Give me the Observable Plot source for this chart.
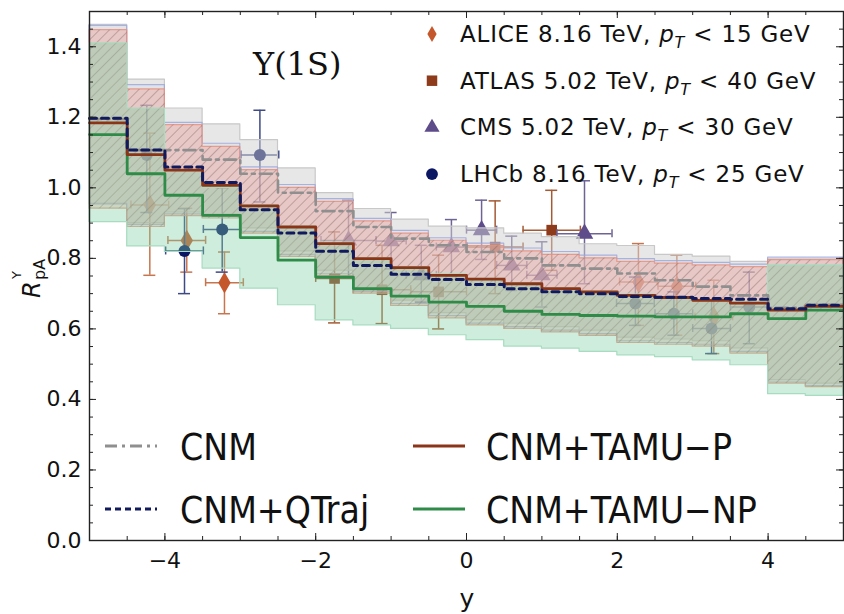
<!DOCTYPE html>
<html><head><meta charset="utf-8">
<script src="https://cdn.jsdelivr.net/npm/d3@7"></script>
<script src="https://cdn.jsdelivr.net/npm/@observablehq/plot@0.6"></script>
<style>html,body{margin:0;padding:0;background:#fff} svg{display:block}</style>
</head><body><div id="chart"></div>
<script>
// ---------- bins (rapidity) ----------
const binEdges = [-5,-4.5,-4,-3.5,-3,-2.5,-2,-1.5,-1,-0.5,0,0.5,1,1.5,2,2.5,3,3.5,4,4.5,5];

// ---------- theory curves: one value per bin ----------
const cnmCentral   = [1.195,1.107,1.107,1.080,1.040,0.986,0.934,0.889,0.856,0.837,0.818,0.800,0.780,0.771,0.757,0.738,0.720,0.695,0.660,0.668];
const cnmUpper     = [1.462,1.307,1.225,1.180,1.135,1.055,0.985,0.940,0.910,0.890,0.885,0.870,0.860,0.840,0.835,0.810,0.805,0.790,0.797,0.797];
const cnmLower     = [0.955,0.900,0.930,0.925,0.885,0.820,0.765,0.715,0.680,0.645,0.625,0.615,0.605,0.595,0.575,0.570,0.565,0.545,0.455,0.445];

const qtrajCentral = [1.197,1.107,1.059,1.015,0.938,0.872,0.820,0.780,0.755,0.740,0.726,0.714,0.705,0.700,0.692,0.690,0.686,0.684,0.657,0.667];
const qtrajUpper   = [1.459,1.291,1.184,1.125,1.058,1.008,0.968,0.912,0.878,0.857,0.842,0.828,0.818,0.808,0.798,0.792,0.787,0.782,0.802,0.802];
const qtrajLower   = [0.953,0.895,0.925,0.918,0.875,0.810,0.755,0.705,0.670,0.636,0.615,0.605,0.595,0.585,0.565,0.560,0.555,0.535,0.448,0.438];

const tamuPCentral = [1.184,1.094,1.050,1.007,0.949,0.889,0.842,0.799,0.774,0.752,0.741,0.728,0.714,0.705,0.695,0.689,0.681,0.673,0.653,0.664];
const tamuPUpper   = [1.447,1.279,1.178,1.116,1.050,1.000,0.960,0.905,0.870,0.850,0.835,0.820,0.810,0.800,0.790,0.785,0.780,0.775,0.795,0.795];
const tamuPLower   = [0.941,0.889,0.920,0.913,0.870,0.804,0.750,0.700,0.665,0.630,0.610,0.600,0.590,0.580,0.560,0.555,0.550,0.530,0.445,0.435];

const tamuNPCentral= [1.151,1.040,0.979,0.922,0.859,0.795,0.747,0.714,0.693,0.676,0.664,0.650,0.641,0.638,0.636,0.634,0.634,0.643,0.629,0.653];
const tamuNPUpper  = [1.410,1.225,1.050,1.000,0.950,0.890,0.845,0.800,0.775,0.755,0.742,0.730,0.715,0.706,0.697,0.690,0.682,0.675,0.780,0.780];
const tamuNPLower  = [0.903,0.834,0.818,0.771,0.714,0.667,0.624,0.610,0.600,0.582,0.568,0.550,0.544,0.535,0.525,0.520,0.511,0.497,0.415,0.410];

// ---------- data points ----------
const aliceY    = [-4.20,-3.71,-3.21, 2.28, 2.79, 3.28];
const aliceR    = [0.951,0.851,0.731,0.733,0.721,0.634];
const aliceLo   = [0.752,0.761,0.643,0.610,0.582,0.530];
const aliceHi   = [1.155,0.942,0.818,0.842,0.809,0.738];
const aliceXerr = [0.25,0.25,0.25,0.25,0.25,0.25];

const atlasY    = [-1.75,-1.12,-0.37, 0.38, 1.13];
const atlasR    = [0.743,0.711,0.705,0.832,0.880];
const atlasLo   = [0.617,0.615,0.600,0.700,0.766];
const atlasHi   = [0.875,0.837,0.809,0.963,0.993];
const atlasXerr = [0.25,0.38,0.37,0.37,0.38];

const cmsY      = [-1.565,-1.0,-0.6,-0.2, 0.2, 0.6, 1.0, 1.565];
const cmsR      = [0.851,0.849,0.752,0.832,0.880,0.780,0.752,0.870];
const cmsLo     = [0.747,0.770,0.676,0.750,0.797,0.709,0.662,0.728];
const cmsHi     = [0.965,0.930,0.837,0.910,0.965,0.863,0.847,1.020];
const cmsXerr   = [0.365,0.2,0.2,0.2,0.2,0.2,0.2,0.365];

const lhcbY     = [-4.24,-3.74,-3.24,-2.74, 2.24, 2.75, 3.25, 3.75];
const lhcbR     = [1.093,0.821,0.882,1.093,0.672,0.643,0.601,0.662];
const lhcbLo    = [0.930,0.700,0.761,0.960,0.610,0.582,0.530,0.558];
const lhcbHi    = [1.234,0.941,1.000,1.220,0.747,0.705,0.681,0.761];
const lhcbXerr  = [0.25,0.25,0.25,0.25,0.25,0.25,0.25,0.25];

// ---------- ticks & labels ----------
const xMajorTicks = [-4,-2,0,2,4];
const yMajorTicks = [0,0.2,0.4,0.6,0.8,1.0,1.2,1.4];
const xMinorTicks = d3.range(-5, 5.001, 0.5);
const yMinorTicks = d3.range(0, 1.501, 0.05);

const expLegend = [
  {name:"ALICE 8.16 TeV, ", cut:" < 15 GeV", symbol:"diamond"},
  {name:"ATLAS 5.02 TeV, ", cut:" < 40 GeV", symbol:"square"},
  {name:"CMS 5.02 TeV, ",   cut:" < 30 GeV", symbol:"triangle"},
  {name:"LHCb 8.16 TeV, ",  cut:" < 25 GeV", symbol:"circle"}
];
const modelLegend = ["CNM","CNM+QTraj","CNM+TAMU\u2212P","CNM+TAMU\u2212NP"];

// ---------- styling ----------
const C = {
  alice:"#c4582c", aliceErr:"#c8754f",
  atlas:"#8e3b1c", atlasErr:"#a35a35",
  cms:"#5d4b8a",  cmsErr:"#6e6394",
  lhcb:"#0b1763", lhcbErr:"#3e4a85",
  cnm:"#8f8f8f", qtraj:"#101a5c", tamuP:"#8a3418", tamuNP:"#2f8c48"
};

// ---------- derived tables ----------
const stepRows = (c, lo, hi) => binEdges.map((e, i) => {
  const k = Math.min(i, c.length - 1);
  return {x: e, c: c[k], lo: lo[k], hi: hi[k]};
});
const cnmRows = stepRows(cnmCentral, cnmLower, cnmUpper);
const qtrajRows = stepRows(qtrajCentral, qtrajLower, qtrajUpper);
const tamuPRows = stepRows(tamuPCentral, tamuPLower, tamuPUpper);
const tamuNPRows = stepRows(tamuNPCentral, tamuNPLower, tamuNPUpper);

const pts = (Y, R, Lo, Hi, Xe) => Y.map((y, i) => ({y, r: R[i], lo: Lo[i], hi: Hi[i], xe: Xe[i]}));
const alice = pts(aliceY, aliceR, aliceLo, aliceHi, aliceXerr);
const atlas = pts(atlasY, atlasR, atlasLo, atlasHi, atlasXerr);
const cms = pts(cmsY, cmsR, cmsLo, cmsHi, cmsXerr);
const lhcb = pts(lhcbY, lhcbR, lhcbLo, lhcbHi, lhcbXerr);

function errorMarks(data, color, errColor, symbol, r) {
  return [
    Plot.ruleX(data, {x:"y", y1:"lo", y2:"hi", stroke:errColor, strokeWidth:1.5}),
    Plot.ruleY(data, {y:"lo", x1:"y", x2:"y", insetLeft:-6, insetRight:-6, stroke:errColor, strokeWidth:1.5}),
    Plot.ruleY(data, {y:"hi", x1:"y", x2:"y", insetLeft:-6, insetRight:-6, stroke:errColor, strokeWidth:1.5}),
    Plot.ruleY(data, {y:"r", x1:d => d.y - d.xe, x2:d => d.y + d.xe, stroke:errColor, strokeWidth:1.5}),
    Plot.ruleX(data, {x:d => d.y - d.xe, y1:"r", y2:"r", insetTop:-4, insetBottom:-4, stroke:errColor, strokeWidth:1.5}),
    Plot.ruleX(data, {x:d => d.y + d.xe, y1:"r", y2:"r", insetTop:-4, insetBottom:-4, stroke:errColor, strokeWidth:1.5}),
    Plot.dot(data, {x:"y", y:"r", symbol, r, fill:color, stroke:"none"})
  ];
}

const W = 844, H = 614;
const M = {top:11, right:1, bottom:74, left:89};
const plotH = H - M.top - M.bottom, plotW = W - M.left - M.right;

const defsMark = () => {
  const defs = document.createElementNS("http://www.w3.org/2000/svg", "defs");
  defs.innerHTML = `<pattern id="hatch" patternUnits="userSpaceOnUse" width="7" height="7" patternTransform="rotate(45)">
    <line x1="0" y1="0" x2="0" y2="7" stroke="#6e4a40" stroke-width="1.1" stroke-opacity="0.6"/></pattern>`;
  return defs;
};

const fmtMinus = d => d < 0 ? "\u2212" + Math.abs(d) : String(d);

const chart = Plot.plot({
  width: W, height: H,
  marginTop: M.top, marginRight: M.right, marginBottom: M.bottom, marginLeft: M.left,
  style: {fontFamily: "DejaVu Sans, sans-serif", fontSize: "22px", color: "#111", background: "#fff", overflow: "visible"},
  x: {domain: [-5, 5], ticks: xMajorTicks, tickSize: 0, tickPadding: 12, tickFormat: fmtMinus, label: null},
  y: {domain: [0, 1.5], ticks: yMajorTicks, tickSize: 0, tickPadding: 8, tickFormat: d3.format(".1f"), label: null},
  marks: [
    defsMark,
    // data (drawn below the translucent bands)
    ...errorMarks(alice, C.alice, C.aliceErr, "diamond", 6.5),
    ...errorMarks(atlas, C.atlas, C.atlasErr, "square", 6),
    ...errorMarks(cms, C.cms, C.cmsErr, "triangle", 6.5),
    ...errorMarks(lhcb, C.lhcb, C.lhcbErr, "circle", 6),
    // bands
    Plot.areaY(cnmRows, {x:"x", y1:"lo", y2:"hi", curve:"step-after", fill:"#d0d0d0", fillOpacity:0.5, stroke:"#c8c8c8", strokeWidth:1.2}),
    Plot.areaY(qtrajRows, {x:"x", y1:"lo", y2:"hi", curve:"step-after", fill:"#c7cdf2", fillOpacity:0.15, stroke:"#9aa4dc", strokeOpacity:0.8, strokeWidth:1.2}),
    Plot.areaY(tamuPRows, {x:"x", y1:"lo", y2:"hi", curve:"step-after", fill:"#ee9f90", fillOpacity:0.38, stroke:"#e6907e", strokeOpacity:0.85, strokeWidth:1.2}),
    Plot.areaY(tamuPRows, {x:"x", y1:"lo", y2:"hi", curve:"step-after", fill:"url(#hatch)"}),
    Plot.areaY(tamuNPRows, {x:"x", y1:"lo", y2:"hi", curve:"step-after", fill:"#7fcfa2", fillOpacity:0.38, stroke:"#a6dcc0", strokeWidth:1.2}),
    // central curves
    Plot.line(cnmRows, {x:"x", y:"c", curve:"step-after", stroke:C.cnm, strokeWidth:2.6, strokeDasharray:"12,5,3,5"}),
    Plot.line(tamuNPRows, {x:"x", y:"c", curve:"step-after", stroke:C.tamuNP, strokeWidth:2.8}),
    Plot.line(tamuPRows, {x:"x", y:"c", curve:"step-after", stroke:C.tamuP, strokeWidth:2.8}),
    Plot.line(qtrajRows, {x:"x", y:"c", curve:"step-after", stroke:C.qtraj, strokeWidth:3, strokeDasharray:"7,5"}),
    // inward ticks
    Plot.tickX(xMinorTicks, {x:d => d, insetTop: plotH - 4, stroke:"#222"}),
    Plot.tickX(xMajorTicks, {x:d => d, insetTop: plotH - 7, stroke:"#222"}),
    Plot.tickX(xMinorTicks, {x:d => d, insetBottom: plotH - 4, stroke:"#222"}),
    Plot.tickX(xMajorTicks, {x:d => d, insetBottom: plotH - 7, stroke:"#222"}),
    Plot.tickY(yMinorTicks, {y:d => d, insetRight: plotW - 4, stroke:"#222"}),
    Plot.tickY(yMajorTicks, {y:d => d, insetRight: plotW - 7, stroke:"#222"}),
    Plot.tickY(yMinorTicks, {y:d => d, insetLeft: plotW - 4, stroke:"#222"}),
    Plot.tickY(yMajorTicks, {y:d => d, insetLeft: plotW - 7, stroke:"#222"}),
    Plot.frame({stroke:"#222", strokeWidth:1.4})
  ]
});
document.getElementById("chart").appendChild(chart);

// ---------- rich-text labels and legends ----------
const svg = d3.select(chart);
const ink = "#111";
const extra = svg.append("g").attr("text-anchor", "start").attr("fill", ink);

// y-axis label  R^Υ_pA
const yl = extra.append("g").attr("transform", "translate(40,270) rotate(-90)").attr("font-family", "DejaVu Sans");
yl.append("text").attr("x", -28).attr("y", 0).attr("font-size", 24).attr("font-style", "italic").text("R");
yl.append("text").attr("x", -10).attr("y", 5).attr("font-size", 16).text("pA");
yl.append("text").attr("x", -9).attr("y", -19).attr("font-size", 13).text("\u03A5");

// x-axis label
extra.append("text").attr("x", 467).attr("y", 607).attr("text-anchor", "middle").attr("font-family", "DejaVu Sans").attr("font-size", 25).text("y");

// state label
extra.append("text").attr("x", 253).attr("y", 75).attr("font-family", "DejaVu Serif, serif").attr("font-size", 32).text("\u03A5(1S)");

// experiment legend
const symMap = {diamond: d3.symbolDiamond, square: d3.symbolSquare, triangle: d3.symbolTriangle, circle: d3.symbolCircle};
const symFill = [C.alice, C.atlas, C.cms, C.lhcb];
const symSize = [75, 110, 100, 110];
expLegend.forEach((d, i) => {
  const cy = 34 + i * 46.7;
  extra.append("path").attr("transform", `translate(432,${cy})`).attr("d", d3.symbol(symMap[d.symbol], symSize[i])()).attr("fill", symFill[i]);
  const t = extra.append("text").attr("x", 460).attr("y", cy + 8).attr("font-family", "DejaVu Sans").attr("font-size", 23).attr("letter-spacing", 0.8);
  t.append("tspan").text(d.name);
  t.append("tspan").attr("font-style", "italic").text("p");
  t.append("tspan").attr("font-style", "italic").attr("font-size", 16).attr("dy", 6).text("T");
  t.append("tspan").attr("dy", -6).text(d.cut);
});

// model legend
const modelStyles = [
  {x:105, y:446, stroke:C.cnm, dash:"12,5,3,5", tx:180},
  {x:105, y:509, stroke:C.qtraj, dash:"6,4", tx:180},
  {x:413, y:446, stroke:C.tamuP, dash:null, tx:486},
  {x:413, y:509, stroke:C.tamuNP, dash:null, tx:486}
];
modelLegend.forEach((name, i) => {
  const s = modelStyles[i];
  extra.append("line").attr("x1", s.x).attr("x2", s.x + 52).attr("y1", s.y).attr("y2", s.y)
    .attr("stroke", s.stroke).attr("stroke-width", 2.8).attr("stroke-dasharray", s.dash);
  extra.append("text").attr("x", s.tx).attr("y", s.y + 14).attr("font-family", "DejaVu Sans Condensed, DejaVu Sans")
    .attr("font-stretch", "condensed").attr("font-size", 37).text(name);
});
</script>
</body></html>
